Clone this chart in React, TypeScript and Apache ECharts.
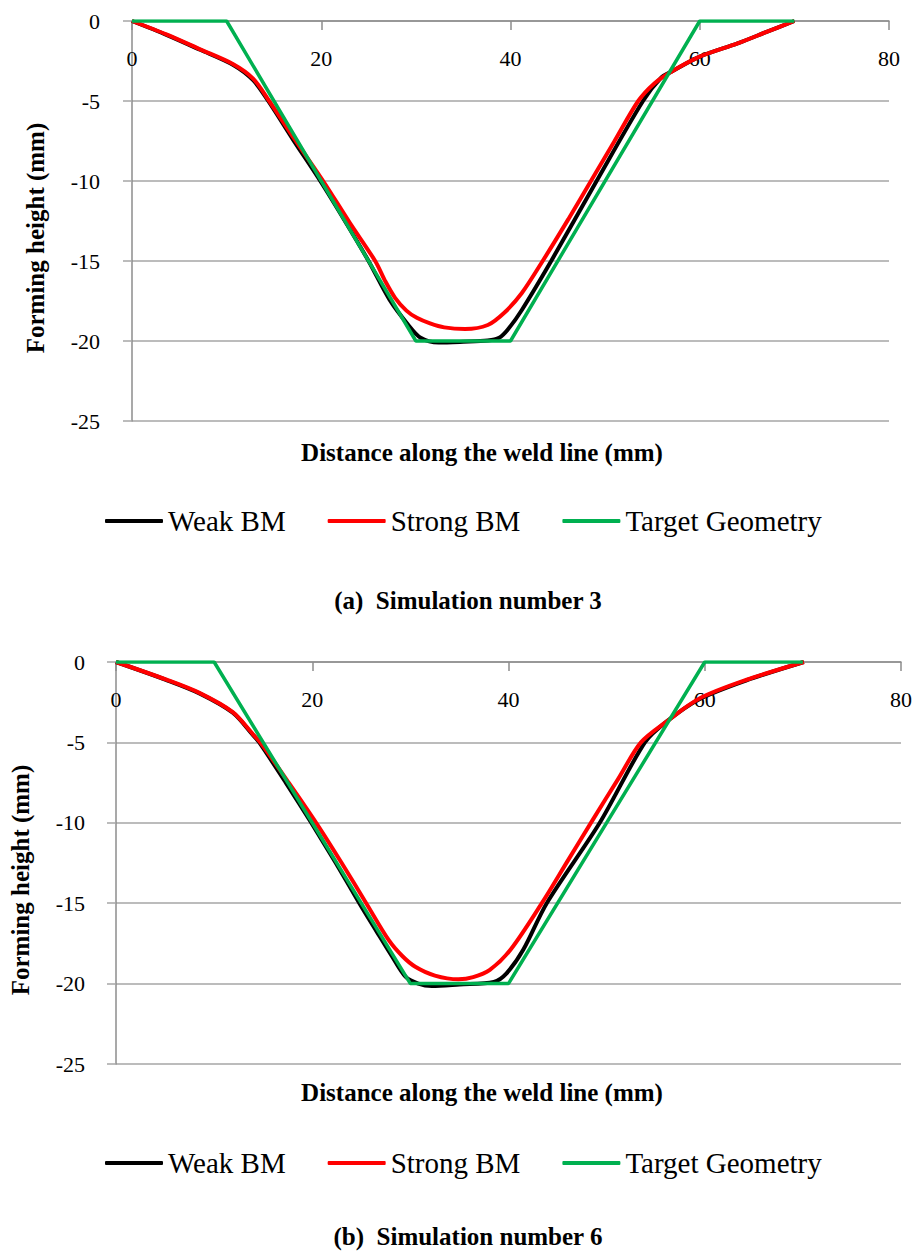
import React, { useEffect, useRef } from "react";
import * as echarts from "echarts";

const FONT = "'Liberation Serif', 'Times New Roman', Times, serif";

const seriesNames = ["Weak BM", "Strong BM", "Target Geometry"];
const seriesColors = ["#000000", "#ff0000", "#00b050"];
const xTicks = { min: 0, max: 80, interval: 20 };
const yTicks = { min: -25, max: 0, interval: 5 };

// Simulation number 3
const weakBM3 = [
  [0, 0], [3.7, -0.88], [7.2, -1.8], [10.7, -2.75], [12.8, -3.7], [14.4, -5],
  [17, -7.4], [19.9, -10], [22.5, -12.5], [25, -15], [27.2, -17.4], [29.2, -19.0],
  [30.5, -19.8], [32.4, -20.1], [35, -20.05], [37.6, -19.97], [38.8, -19.8],
  [39.7, -19.3], [41.2, -18.06], [44.3, -15], [49.1, -10], [54.0, -5],
  [55.9, -3.55], [57.0, -3.17], [60, -2.23], [64, -1.4], [67, -0.7], [70, 0],
];
const strongBM3 = [
  [0, 0], [3.7, -0.85], [7.2, -1.77], [10.7, -2.7], [12.8, -3.6], [14.5, -5],
  [17.2, -7.4], [20.2, -10], [23, -12.6], [25.7, -15], [26.8, -16.3], [27.8, -17.3],
  [29, -18.1], [30.1, -18.55], [31.5, -18.9], [33, -19.15], [35.2, -19.25],
  [37.6, -19.0], [39.4, -18.2], [41.2, -17.0], [43.4, -15], [46.1, -12.4],
  [48.5, -10], [51.0, -7.5], [53.5, -5], [55.2, -3.9], [57.0, -3.17], [60, -2.23],
  [64, -1.4], [67, -0.7], [70, 0],
];
const target3 = [[0, 0], [10, 0], [30, -20], [40, -20], [60, 0], [70, 0]];

// Simulation number 6
const weakBM6 = [
  [0, 0], [5.15, -1.12], [8.5, -1.95], [11.9, -3.15], [13.9, -4.5], [14.6, -5],
  [17.3, -7.5], [19.9, -10], [22.4, -12.5], [24.8, -15], [26.6, -16.8],
  [28.15, -18.33], [29.5, -19.57], [30.8, -20.0], [32.2, -20.15], [35, -20.05],
  [38.5, -19.9], [39.8, -19.36], [41.5, -17.9], [43.9, -15], [49.3, -10],
  [53.9, -5], [56.1, -3.71], [59.5, -2.3], [64.2, -1.15], [70.1, 0],
];
const strongBM6 = [
  [0, 0], [5.15, -1.1], [8.5, -1.92], [11.9, -3.12], [13.9, -4.45], [14.7, -5],
  [17.6, -7.5], [20.4, -10], [23, -12.5], [25.5, -15], [27.8, -17.3], [29.2, -18.3],
  [30.5, -18.95], [32.5, -19.5], [34.9, -19.73], [36.4, -19.6], [38.1, -19.15],
  [40.2, -17.9], [43.4, -15], [46.0, -12.4], [48.6, -9.8], [51.2, -7.25], [53.5, -5],
  [56.1, -3.71], [59.5, -2.26], [64.2, -1.12], [70.1, 0],
];
const target6 = [[0, 0], [10, 0], [30, -20], [40, -20], [60, 0], [70, 0]];

const yTitle = "Forming height (mm)";
const xTitle = "Distance along the weld line (mm)";
const captions = ["(a)  Simulation number 3", "(b)  Simulation number 6"];

const AXIS_COLOR = "#8c8c8c";
const GRID_COLOR = "#a6a6a6";

function makeX(gridIndex: number) {
  return {
    gridIndex,
    type: "value",
    position: "top",
    min: xTicks.min,
    max: xTicks.max,
    interval: xTicks.interval,
    axisLine: { show: true, onZero: false, lineStyle: { color: AXIS_COLOR, width: 1.5 } },
    axisTick: { show: true, inside: true, length: 9, lineStyle: { color: AXIS_COLOR, width: 1.5 } },
    axisLabel: { inside: true, margin: 26, fontSize: 22, color: "#000", fontFamily: FONT },
    splitLine: { show: false },
  };
}

function makeY(gridIndex: number, margin: number) {
  return {
    gridIndex,
    type: "value",
    min: yTicks.min,
    max: yTicks.max,
    interval: yTicks.interval,
    axisLine: { show: true, onZero: false, lineStyle: { color: AXIS_COLOR, width: 1.5 } },
    axisTick: { show: true, length: 9, lineStyle: { color: GRID_COLOR, width: 1.5 } },
    axisLabel: { margin, fontSize: 22, color: "#000", fontFamily: FONT },
    splitLine: { show: true, lineStyle: { color: GRID_COLOR, width: 1.5 } },
  };
}

function makeSeries(name: string, idx: number, data: number[][], axis: number, smooth: boolean) {
  return {
    name,
    type: "line",
    xAxisIndex: axis,
    yAxisIndex: axis,
    data,
    smooth: smooth ? 0.3 : false,
    showSymbol: false,
    symbol: "none",
    lineStyle: { color: seriesColors[idx], width: idx === 2 ? 3.5 : 4 },
    itemStyle: { color: seriesColors[idx] },
  };
}

function makeLegend(top: number) {
  return {
    top,
    left: 105,
    padding: 0,
    itemWidth: 58,
    itemHeight: 4,
    itemGap: 42,
    icon: "roundRect",
    data: seriesNames,
    textStyle: { fontSize: 29, fontFamily: FONT, color: "#000", lineHeight: 30 },
  };
}

function textEl(text: string, x: number, y: number, size: number, bold: boolean, rotation = 0) {
  return {
    type: "text",
    x,
    y,
    rotation,
    style: {
      text,
      fontSize: size,
      fontWeight: bold ? "bold" : "normal",
      fontFamily: FONT,
      fill: "#000",
      align: "center",
      verticalAlign: "middle",
    },
  };
}

export default function App() {
  const ref = useRef<HTMLDivElement>(null);
  useEffect(() => {
    if (!ref.current) return;
    const chart = echarts.init(ref.current, undefined, { renderer: "svg" });
    chart.setOption({
      animation: false,
      backgroundColor: "#ffffff",
      textStyle: { fontFamily: FONT },
      grid: [
        { left: 132, top: 21, width: 757, height: 400 },
        { left: 116, top: 662, width: 789, height: 402 },
      ],
      xAxis: [makeX(0), makeX(1)],
      yAxis: [makeY(0, 32), makeY(1, 31)],
      legend: [makeLegend(506), makeLegend(1148)],
      series: [
        makeSeries(seriesNames[0], 0, weakBM3, 0, true),
        makeSeries(seriesNames[1], 1, strongBM3, 0, true),
        makeSeries(seriesNames[2], 2, target3, 0, false),
        makeSeries(seriesNames[0], 0, weakBM6, 1, true),
        makeSeries(seriesNames[1], 1, strongBM6, 1, true),
        makeSeries(seriesNames[2], 2, target6, 1, false),
      ],
      graphic: [
        textEl(yTitle, 35, 238, 25, true, Math.PI / 2),
        textEl(yTitle, 20, 880, 25, true, Math.PI / 2),
        textEl(xTitle, 482, 452, 25, true),
        textEl(xTitle, 482, 1092, 25, true),
        textEl(captions[0], 468, 600, 25, true),
        textEl(captions[1], 468, 1236, 25, true),
      ],
    });
    return () => chart.dispose();
  }, []);
  return (
    <div
      ref={ref}
      style={{
        position: "absolute",
        left: 0,
        top: 0,
        width: 915,
        height: 1253,
        background: "#fff",
        fontFamily: FONT,
      }}
    />
  );
}
